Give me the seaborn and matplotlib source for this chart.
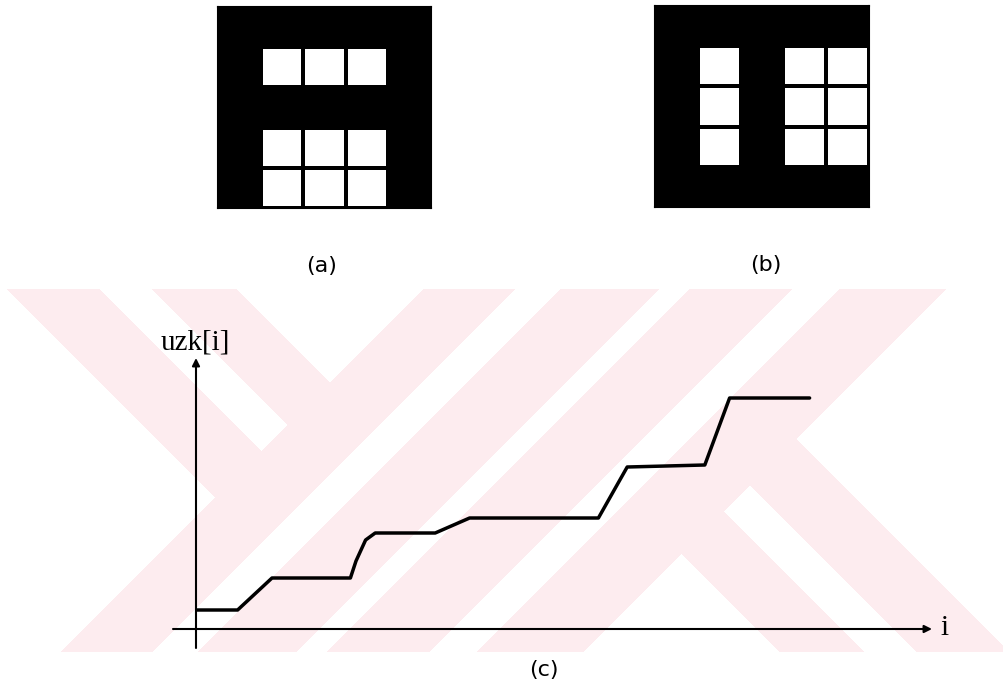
import numpy as np
import matplotlib
matplotlib.use("Agg")
import matplotlib.pyplot as plt
import seaborn as sns

# ---- data -------------------------------------------------------------
# binary 5x5 images: 0 = black pixel, 1 = white pixel
image_a = [
    [0, 0, 0, 0, 0],
    [0, 1, 1, 1, 0],
    [0, 0, 0, 0, 0],
    [0, 1, 1, 1, 0],
    [0, 1, 1, 1, 0],
]
image_b = [
    [0, 0, 0, 0, 0],
    [0, 1, 0, 1, 1],
    [0, 1, 0, 1, 1],
    [0, 1, 0, 1, 1],
    [0, 0, 0, 0, 0],
]

# cumulative profile uzk[i]
i_values = [0, 5.2, 9.5, 19.3, 20.0, 21.2, 22.4, 29.9, 34.2, 50.3, 53.9, 63.6, 66.7, 76.7]
uzk_values = [1.9, 1.9, 5.1, 5.1, 6.8, 8.9, 9.6, 9.6, 11.1, 11.1, 16.2, 16.4, 23.1, 23.1]

panel_labels = ["(a)", "(b)", "(c)"]
y_label = "uzk[i]"
x_label = "i"

# ---- figure -----------------------------------------------------------
W, H = 1004, 695
sns.set_style("white")
plt.rcParams["font.family"] = ["DejaVu Sans"]
plt.rcParams["text.color"] = "black"
fig = plt.figure(figsize=(W / 100, H / 100), dpi=100)
fig.patch.set_facecolor("white")


def fig_rect(x0, y0, x1, y1):
    """pixel box (top-left origin) -> figure fraction rect"""
    return [x0 / W, 1 - y1 / H, (x1 - x0) / W, (y1 - y0) / H]


# pale watermark band behind panel (c)
bg = fig.add_axes([0, 0, 1, 1], zorder=-10)
yy, xx = np.mgrid[0:H, 0:W] + 0.5
u = xx - yy
v = xx + yy
band = (yy >= 289) & (yy <= 652)
white = (u < -282) & (v < 713)
white |= (u >= -189) & (u < -137) & (v < 713)
white |= (u >= -52) & (v < 713)
for lo, hi in [(805, 850), (949, 979), (1082, 1129)]:
    white |= (v >= lo) & (v < hi)
white |= (u < 128) & (v >= 1236)
white |= (u >= 213) & (u < 265) & (v >= 1236)
white |= (u >= 358) & (v >= 1236)
pink = band & ~white
rgb = np.ones((H, W, 3))
rgb[pink] = np.array([253, 236, 239]) / 255
bg.imshow(rgb, extent=[0, W, H, 0], aspect="auto", interpolation="nearest")
bg.set_axis_off()

cmap = matplotlib.colors.ListedColormap(["black", "white"])

# panel (a)
ax_a = fig.add_axes(fig_rect(218, 7, 431, 208))
sns.heatmap(np.array(image_a), ax=ax_a, cmap=cmap, vmin=0, vmax=1, cbar=False,
            linewidths=1.6, linecolor="black", xticklabels=False, yticklabels=False)
for s in ax_a.spines.values():
    s.set_visible(True)
    s.set_color("black")
    s.set_linewidth(1.5)

# panel (b)
ax_b = fig.add_axes(fig_rect(655, 6, 869, 207))
sns.heatmap(np.array(image_b), ax=ax_b, cmap=cmap, vmin=0, vmax=1, cbar=False,
            linewidths=1.6, linecolor="black", xticklabels=False, yticklabels=False)
for s in ax_b.spines.values():
    s.set_visible(True)
    s.set_color("black")
    s.set_linewidth(1.5)

# panel (c): origin at pixel (196, 629); 8 px per i-unit, 10 px per uzk-unit
ox, oy = 196, 629
xr, yr = 8.0, 10.0
right_px, top_px = 932, 358
ax_c = fig.add_axes(fig_rect(ox, top_px, right_px, oy))
ax_c.set_facecolor("none")
ax_c.set_xlim(0, (right_px - ox) / xr)
ax_c.set_ylim(0, (oy - top_px) / yr)
sns.lineplot(x=i_values, y=uzk_values, ax=ax_c, color="black", linewidth=2.5,
             sort=False, estimator=None)
for s in ax_c.spines.values():
    s.set_visible(False)
ax_c.set_xticks([])
ax_c.set_yticks([])

xmax = (right_px - ox) / xr
ymax = (oy - top_px) / yr
arrow = dict(arrowstyle="-|>", lw=1.5, color="black", mutation_scale=11,
             shrinkA=0, shrinkB=0)
ax_c.annotate("", xy=(xmax, 0), xytext=(-(ox - 173) / xr, 0),
              arrowprops=arrow, annotation_clip=False)
ax_c.annotate("", xy=(0, ymax), xytext=(0, -(648 - oy) / yr),
              arrowprops=arrow, annotation_clip=False)

ax_c.text(-(ox - 161) / xr, ymax + 1.6, y_label, family="Liberation Serif",
          fontsize=21, ha="left", va="center", clip_on=False, color="black")
ax_c.text(xmax + 1.0, 0.1, x_label, family="Liberation Serif",
          fontsize=21, ha="left", va="center", clip_on=False, color="black")

# captions
for lbl, (px, py) in zip(panel_labels, [(322, 266), (766, 265), (544, 670)]):
    fig.text(px / W, 1 - py / H, lbl, fontsize=16, ha="center", va="center",
             color="black")

fig.savefig("out.png", dpi=100)
